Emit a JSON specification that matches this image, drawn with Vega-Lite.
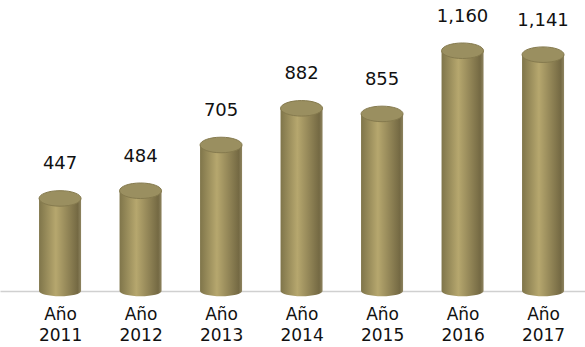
{
  "$schema": "https://vega.github.io/schema/vega-lite/v6.json",
  "width": 585,
  "height": 291,
  "padding": {"left": 0, "top": 0, "right": 0, "bottom": 56},
  "autosize": {"type": "none"},
  "background": "white",
  "config": {"view": {"stroke": null}},
  "data": {"values": [
    {"year": 2011, "value": 447, "label": "447"},
    {"year": 2012, "value": 484, "label": "484"},
    {"year": 2013, "value": 705, "label": "705"},
    {"year": 2014, "value": 882, "label": "882"},
    {"year": 2015, "value": 855, "label": "855"},
    {"year": 2016, "value": 1160, "label": "1,160"},
    {"year": 2017, "value": 1141, "label": "1,141"}
  ]},
  "layer": [
    {
      "mark": {"type": "bar", "width": 42,
        "color": {"gradient": "linear", "x1": 0, "x2": 1, "y1": 0, "y2": 0,
          "stops": [{"offset": 0, "color": "#7f754a"}, {"offset": 0.4, "color": "#b6a76e"}, {"offset": 0.92, "color": "#746943"}, {"offset": 1, "color": "#8e8460"}]}},
      "encoding": {
        "x": {
          "field": "year", "type": "quantitative",
          "scale": {"domain": [2010.316, 2017.459], "nice": false, "zero": false},
          "axis": {
            "title": null, "values": [2011, 2012, 2013, 2014, 2015, 2016, 2017],
            "format": "d", "labelExpr": "['Año', datum.label]",
            "grid": false, "ticks": false, "domain": true, "domainColor": "#d0d0d0", "domainWidth": 1.5,
            "labelFont": "DejaVu Sans", "labelFontSize": 17, "labelColor": "#111111",
            "labelLineHeight": 21, "labelPadding": 15, "labelBaseline": "top"
          }
        },
        "y": {"field": "value", "type": "quantitative", "scale": {"domain": [0, 1405], "nice": false}, "axis": null}
      }
    },
    {
      "mark": {"type": "point", "shape": "M-1,0 A1,0.25 0 1,0 1,0 Z", "size": 1764, "filled": true, "opacity": 1,
        "fill": {"gradient": "linear", "x1": 0, "x2": 1, "y1": 0, "y2": 0,
          "stops": [{"offset": 0, "color": "#7f754a"}, {"offset": 0.4, "color": "#b6a76e"}, {"offset": 0.92, "color": "#746943"}, {"offset": 1, "color": "#8e8460"}]}},
      "encoding": {
        "x": {"field": "year", "type": "quantitative"},
        "y": {"datum": 0, "type": "quantitative"}
      }
    },
    {
      "mark": {"type": "point", "shape": "M-1,0 A1,0.37 0 1,0 1,0 A1,0.37 0 1,0 -1,0 Z", "size": 1764, "filled": true, "opacity": 1,
        "fill": "#9a8f60", "stroke": "#857a4e", "strokeWidth": 1},
      "encoding": {
        "x": {"field": "year", "type": "quantitative"},
        "y": {"field": "value", "type": "quantitative"}
      }
    },
    {
      "mark": {"type": "text", "dy": -29, "font": "DejaVu Sans", "fontSize": 18, "color": "#111111", "baseline": "alphabetic"},
      "encoding": {
        "x": {"field": "year", "type": "quantitative"},
        "y": {"field": "value", "type": "quantitative"},
        "text": {"field": "label"}
      }
    }
  ]
}
